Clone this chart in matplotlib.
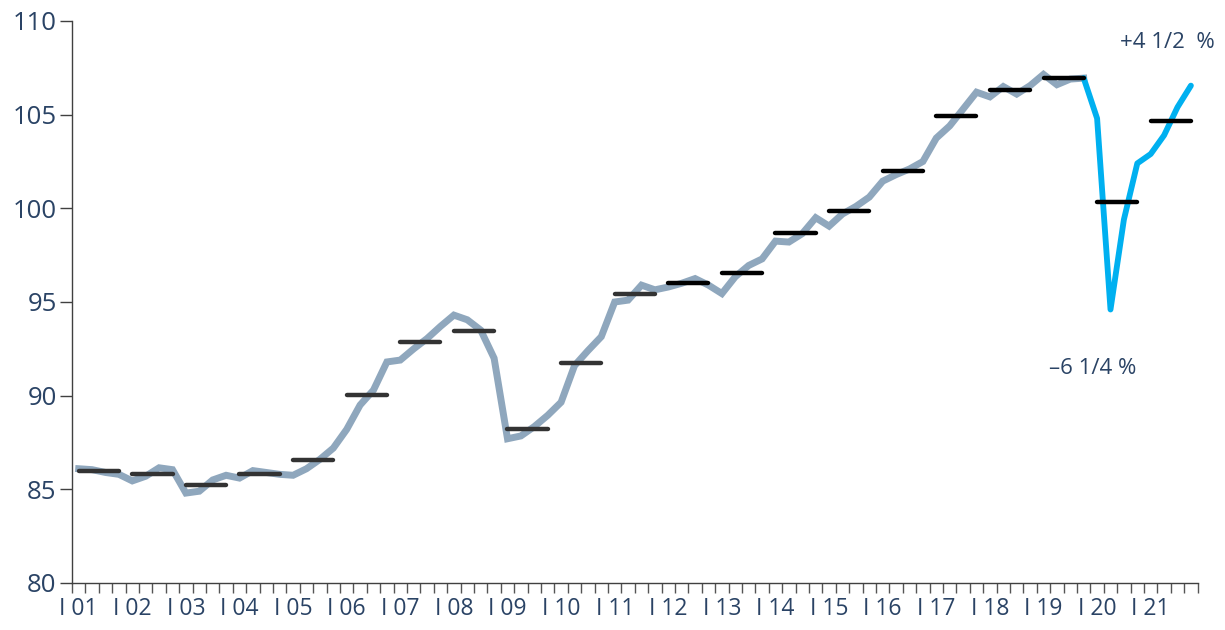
import numpy as np
import matplotlib.pyplot as plt

plt.rcParams['font.family'] = ['Open Sans', 'DejaVu Sans']

# quarterly index values, 2001 Q1 .. 2021 Q4
values = [86.1, 86.05, 85.9, 85.8, 85.45, 85.7, 86.15, 86.05,   # 01-02
          84.8, 84.9, 85.5, 85.75, 85.6, 86.0, 85.9, 85.8,      # 03-04
          85.75, 86.1, 86.6, 87.2, 88.2, 89.5, 90.3, 91.8,      # 05-06
          91.9, 92.5, 93.05, 93.7, 94.3, 94.05, 93.5, 92.0,     # 07-08
          87.7, 87.85, 88.35, 88.95, 89.65, 91.6, 92.4, 93.15,  # 09-10
          95.0, 95.1, 95.9, 95.65, 95.8, 96.0, 96.25, 95.9,     # 11-12
          95.45, 96.35, 96.95, 97.3, 98.25, 98.2, 98.65, 99.5,  # 13-14
          99.05, 99.7, 100.1, 100.6, 101.45, 101.8, 102.1, 102.5,   # 15-16
          103.75, 104.4, 105.3, 106.2, 105.95, 106.5, 106.1, 106.55,  # 17-18
          107.15, 106.6, 106.9, 106.95, 104.8, 94.6, 99.4, 102.4,   # 19-20
          102.9, 103.9, 105.4, 106.55]                              # 21
# annual averages
years = list(range(2001, 2022))
annual = [85.97, 85.83, 85.21, 85.8, 86.58, 90.05, 92.87, 93.47, 88.2, 91.76,
          95.41, 95.99, 96.53, 98.66, 99.88, 102.0, 104.95, 106.33, 106.96,
          100.32, 104.68]
year_labels = ["I %02d" % (y % 100) for y in years]

n = len(values)
x = np.arange(n) + 0.5
split = 75  # 2019 Q4, where the blue part starts

fig = plt.figure(figsize=(12.25, 6.3), dpi=100)
ax = fig.add_axes([72/1225, 1-583/630, (1197.6-72)/1225, (583-21)/630])

ax.plot(x[:split+1], values[:split+1], color='#8fa7bd', lw=5,
        solid_joinstyle='miter', zorder=2)
ax.plot(x[split:], values[split:], color='#00b0f0', lw=4.2,
        solid_joinstyle='round', solid_capstyle='round', zorder=3)

for k, (yr, a) in enumerate(zip(years, annual)):
    c = '#333333' if yr < 2012 else '#000000'
    ax.plot([4*k+0.5, 4*k+3.5], [a, a], color=c, lw=3.2,
            solid_capstyle='round', zorder=4)

txt = '#2a4365'
# annotations placed in figure pixels (origin bottom-left)
ax.text(1167, 630-42, '+4 1/2  %', transform=None, fontsize=16, color=txt,
        ha='center', va='center')
ax.text(1093, 630-368, '\u20136 1/4 %', transform=None, fontsize=16,
        color=txt, ha='center', va='center')

ax.set_xlim(0, n)
ax.set_ylim(80, 110)
ax.set_yticks(np.arange(80, 111, 5))
ax.tick_params(axis='y', direction='out', length=9, width=1, color='#404040',
               labelsize=18.5, labelcolor=txt, pad=2)

ax.set_xticks(np.arange(0, n, 4) + 0.5)
ax.set_xticklabels(year_labels)
ax.set_xticks(np.arange(0, n+1), minor=True)
ax.tick_params(axis='x', which='major', length=0, labelsize=16.5,
               labelcolor=txt, pad=10)
ax.tick_params(axis='x', which='minor', direction='out', length=7, width=1,
               color='#555555')

for s in ['top', 'right']:
    ax.spines[s].set_visible(False)
for s in ['left', 'bottom']:
    ax.spines[s].set_color('#404040')
    ax.spines[s].set_linewidth(1)

fig.savefig('out.png', dpi=100)
